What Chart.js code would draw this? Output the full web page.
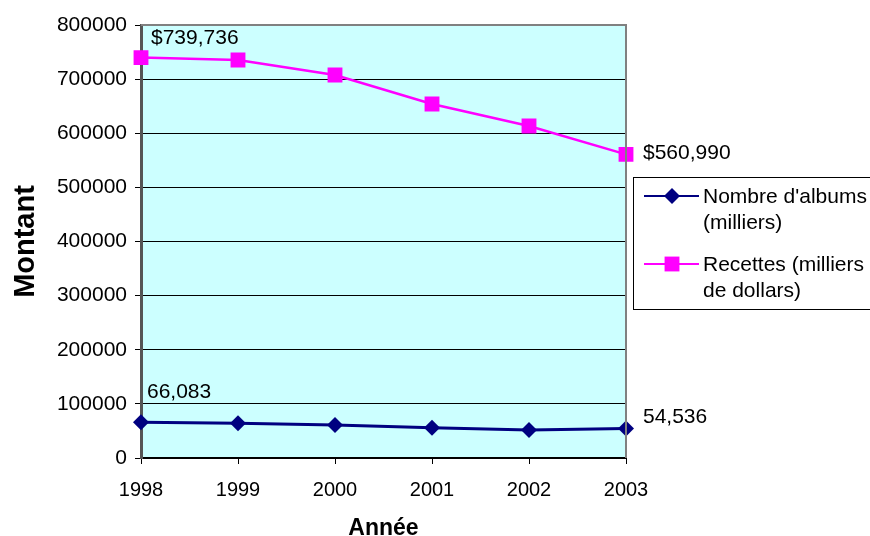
<!DOCTYPE html>
<html>
<head>
<meta charset="utf-8">
<script src="https://cdn.jsdelivr.net/npm/chart.js@4"></script>
<style>
  body { margin: 0; background: #fff; }
  #wrap { width: 870px; height: 536px; }
</style>
</head>
<body>
<div id="wrap"><canvas id="chart" width="870" height="536"></canvas></div>
<script>
const annees = ["1998", "1999", "2000", "2001", "2002", "2003"];
const albums = [66083, 64100, 61000, 56000, 51700, 54536];
const recettes = [739736, 735300, 707600, 654000, 613400, 560990];
const yTicks = [0, 100000, 200000, 300000, 400000, 500000, 600000, 700000, 800000];

const FONT = "'Liberation Sans', Arial, sans-serif";

// fond bleu + bordure grise de la zone de tracé
const fondPlugin = {
  id: "fond",
  beforeDraw(chart) {
    const { ctx, chartArea: a } = chart;
    ctx.save();
    ctx.fillStyle = "#CCFFFF";
    ctx.fillRect(a.left, a.top, a.right - a.left, a.bottom - a.top);
    ctx.restore();
  },
  afterDatasetsDraw(chart) {
    const { ctx, chartArea: a } = chart;
    ctx.save();
    ctx.strokeStyle = "#808080";
    ctx.lineWidth = 2;
    ctx.beginPath();
    ctx.moveTo(a.left, a.top);
    ctx.lineTo(a.right, a.top);
    ctx.lineTo(a.right, a.bottom);
    ctx.stroke();
    ctx.restore();
  },
};

// étiquettes sur le premier et le dernier point
const etiquettesPlugin = {
  id: "etiquettes",
  afterDraw(chart) {
    const { ctx } = chart;
    const x = chart.scales.x, y = chart.scales.y;
    ctx.save();
    ctx.font = "21px " + FONT;
    ctx.fillStyle = "#000";
    ctx.textBaseline = "middle";
    ctx.textAlign = "left";
    const fmt = (v) => v.toLocaleString("en-US");
    ctx.fillText("$" + fmt(recettes[0]), x.getPixelForValue(0) + 10, y.getPixelForValue(recettes[0]) - 19);
    ctx.fillText("$" + fmt(recettes[5]), x.getPixelForValue(5) + 17, y.getPixelForValue(recettes[5]) - 1);
    ctx.fillText(fmt(albums[0]), x.getPixelForValue(0) + 6, y.getPixelForValue(albums[0]) - 30);
    ctx.fillText(fmt(albums[5]), x.getPixelForValue(5) + 17, y.getPixelForValue(albums[5]) - 11);
    ctx.restore();
  },
};

// légende encadrée à droite
const legendePlugin = {
  id: "legende",
  afterDraw(chart) {
    const { ctx } = chart;
    ctx.save();
    ctx.strokeStyle = "#000";
    ctx.lineWidth = 1;
    ctx.strokeRect(633.5, 177.5, 250, 132);
    const items = [
      { ds: chart.data.datasets[0], y: 196, lines: ["Nombre d'albums", "(milliers)"] },
      { ds: chart.data.datasets[1], y: 264, lines: ["Recettes (milliers", "de dollars)"] },
    ];
    items.forEach((it) => {
      ctx.strokeStyle = it.ds.borderColor;
      ctx.lineWidth = 2;
      ctx.beginPath();
      ctx.moveTo(644, it.y);
      ctx.lineTo(699, it.y);
      ctx.stroke();
      ctx.fillStyle = it.ds.backgroundColor;
      Chart.helpers.drawPoint(ctx, { pointStyle: it.ds.pointStyle, radius: it.ds.pointRadius, borderWidth: 0 }, 672, it.y);
      ctx.fillStyle = "#000";
      ctx.font = "21px " + FONT;
      ctx.textBaseline = "middle";
      ctx.textAlign = "left";
      it.lines.forEach((t, i) => ctx.fillText(t, 703, it.y + 1 + i * 26));
    });
    ctx.restore();
  },
};

new Chart(document.getElementById("chart"), {
  type: "line",
  data: {
    labels: annees,
    datasets: [
      {
        label: "Nombre d'albums (milliers)",
        data: albums,
        borderColor: "#000080",
        backgroundColor: "#000080",
        borderWidth: 3,
        pointStyle: "rectRot",
        pointRadius: 8,
        pointBorderWidth: 0,
        tension: 0,
      },
      {
        label: "Recettes (milliers de dollars)",
        data: recettes,
        borderColor: "#FF00FF",
        backgroundColor: "#FF00FF",
        borderWidth: 2.5,
        pointStyle: "rect",
        pointRadius: 10.5,
        pointBorderWidth: 0,
        tension: 0,
      },
    ],
  },
  options: {
    responsive: false,
    animation: false,
    layout: { padding: { top: 25, right: 244, left: 0, bottom: 0 } },
    plugins: { legend: { display: false }, tooltip: { enabled: false } },
    scales: {
      x: {
        offset: false,
        afterFit(s) { s.height = 78; },
        grid: { drawOnChartArea: false, drawTicks: true, tickLength: 6, color: "#000" },
        border: { color: "#000", width: 2 },
        ticks: { color: "#000", font: { family: FONT, size: 20 }, padding: 14 },
        title: {
          display: true, text: "Année", color: "#000",
          font: { family: FONT, size: 23, weight: "bold" }, padding: { top: 4, bottom: -6 },
        },
      },
      y: {
        min: 0,
        max: 800000,
        afterFit(s) { s.width = 141; },
        afterBuildTicks(s) { s.ticks = yTicks.map((v) => ({ value: v })); },
        grid: { color: "#000", lineWidth: 1, tickLength: 6 },
        border: { color: "#555", width: 3 },
        ticks: { color: "#000", font: { family: FONT, size: 21 }, padding: 8, callback: (v) => String(v) },
        title: {
          display: true, text: "Montant", color: "#000",
          font: { family: FONT, size: 29, weight: "bold" }, padding: { top: 9, bottom: 4 },
        },
      },
    },
  },
  plugins: [fondPlugin, etiquettesPlugin, legendePlugin],
});
</script>
</body>
</html>
